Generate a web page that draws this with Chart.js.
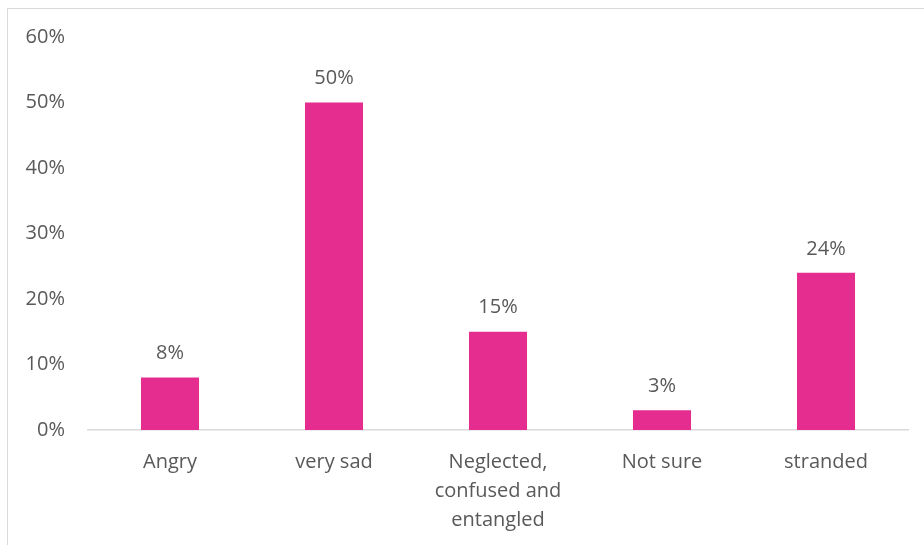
<!DOCTYPE html>
<html>
<head>
<meta charset="utf-8">
<script src="https://cdn.jsdelivr.net/npm/chart.js@4/dist/chart.umd.min.js"></script>
<style>
  html, body { margin: 0; padding: 0; background: #fff; overflow: hidden; }
  #frame { position: absolute; left: 7px; top: 8px; width: 960px; height: 600px; border: 1.5px solid #d9d9d9; }
  #wrap { position: absolute; left: 0; top: 0; width: 924px; height: 545px; }
</style>
</head>
<body>
<div id="frame"></div>
<div id="wrap"><canvas id="chart" width="924" height="545"></canvas></div>
<script>
const categories = ['Angry', 'very sad', ['Neglected,', 'confused and', 'entangled'], 'Not sure', 'stranded'];
const shares = [8, 50, 15, 3, 24];
const yTicks = [0, 10, 20, 30, 40, 50, 60];

const textColor = '#595959';
const fontFamily = '"Open Sans", sans-serif';

// draws the value above each bar
const barLabels = {
  id: 'barLabels',
  afterDatasetsDraw(chart) {
    const ctx = chart.ctx;
    const meta = chart.getDatasetMeta(0);
    ctx.save();
    ctx.fillStyle = textColor;
    ctx.font = '20px ' + fontFamily;
    ctx.textAlign = 'center';
    ctx.textBaseline = 'bottom';
    meta.data.forEach((bar, i) => {
      ctx.fillText(shares[i] + '%', bar.x, bar.y - 14);
    });
    ctx.restore();
  }
};

const ctx = document.getElementById('chart').getContext('2d');
new Chart(ctx, {
  type: 'bar',
  data: {
    labels: categories,
    datasets: [{
      data: shares,
      backgroundColor: '#e42d8f',
      barPercentage: 0.354,
      categoryPercentage: 1
    }]
  },
  options: {
    responsive: false,
    animation: false,
    layout: { padding: { top: 37, right: 16, left: 0, bottom: 0 } },
    plugins: { legend: { display: false }, tooltip: { enabled: false } },
    scales: {
      x: {
        grid: { display: false, drawTicks: false },
        border: { display: true, color: '#d9d9d9', width: 1.5 },
        ticks: {
          color: textColor,
          font: { family: fontFamily, size: 20, lineHeight: 1.45 },
          padding: 18,
          maxRotation: 0,
          autoSkip: false
        },
        afterFit(scale) { scale.height = 115; }
      },
      y: {
        min: 0,
        max: 60,
        afterBuildTicks(scale) { scale.ticks = yTicks.map(v => ({ value: v })); },
        grid: { display: false, drawTicks: false },
        border: { display: false },
        ticks: {
          color: textColor,
          font: { family: fontFamily, size: 20 },
          padding: 23,
          callback: v => v + '%'
        },
        afterFit(scale) { scale.width = 88; }
      }
    }
  },
  plugins: [barLabels]
});
</script>
</body>
</html>
